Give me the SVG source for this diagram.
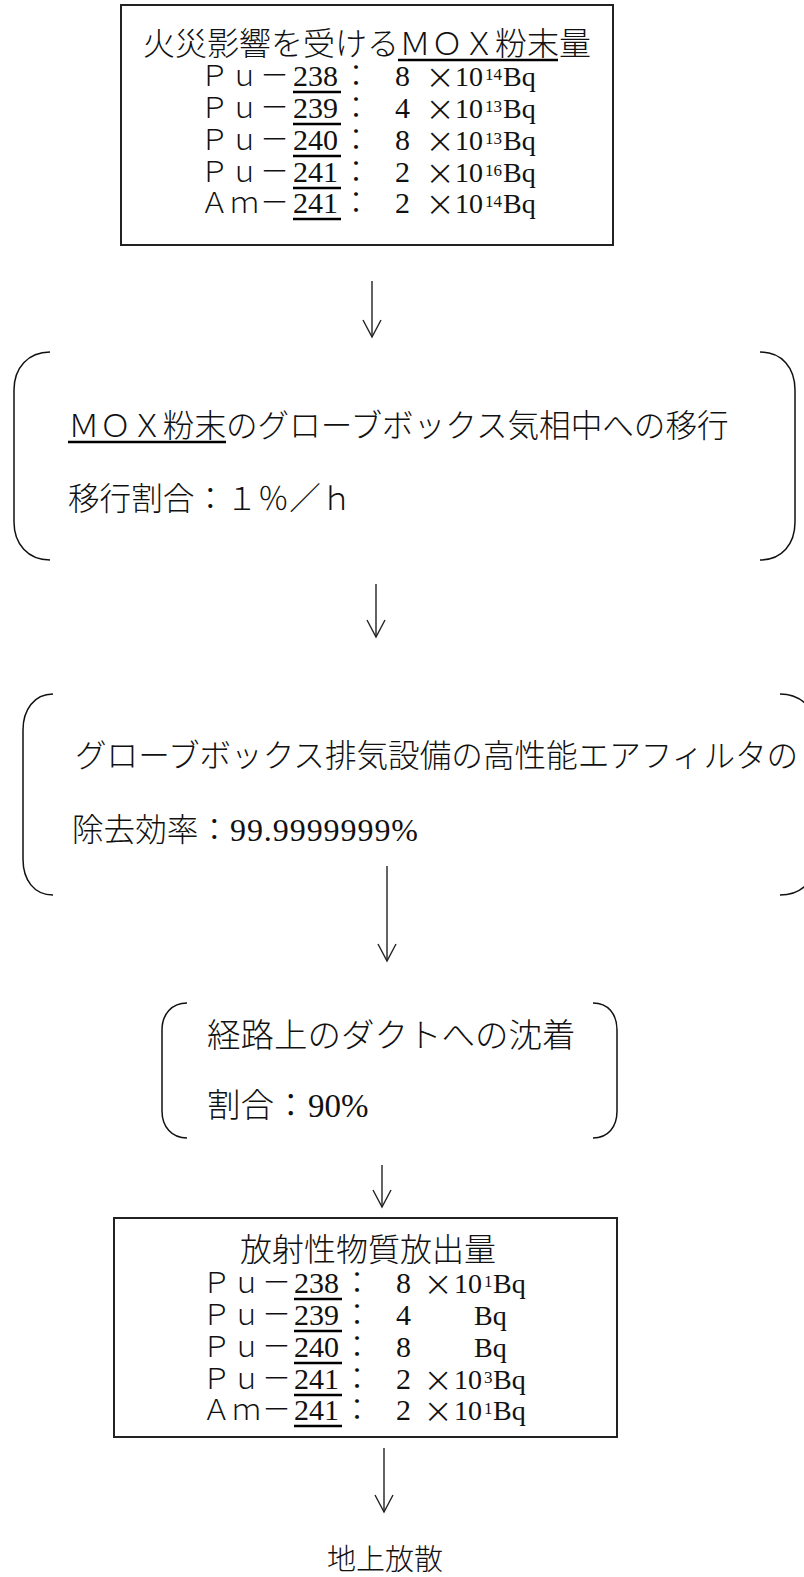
<svg xmlns="http://www.w3.org/2000/svg" width="804" height="1577" viewBox="0 0 804 1577">
<style>
.t{font-family:"Liberation Serif","Noto Sans CJK JP",serif;fill:#111;}
.jp{font-family:"Noto Sans CJK JP","Liberation Serif",sans-serif;fill:#111;font-weight:300;}
.box{fill:none;stroke:#222;stroke-width:2;}
.br{fill:none;stroke:#111;stroke-width:1.5;}
.ul{stroke:#000;stroke-width:2.5;}
.ar{fill:none;stroke:#222;stroke-width:1.4;}
.f30{font-size:30px;}
.fw{font-size:29px;letter-spacing:1px;}
.f28{font-size:28px;}
.sup{font-size:17px;}
.x{font-family:"DejaVu Sans",sans-serif;font-size:36px;font-weight:200;}
</style>
<defs>
<marker id="v" viewBox="-20 -12 22 24" refX="0" refY="0" markerWidth="22" markerHeight="24" markerUnits="userSpaceOnUse" orient="auto">
<path d="M-17,-9 L0,0 L-17,9" fill="none" stroke="#222" stroke-width="1.4"/>
</marker>
</defs>

<g id="node-input">
<rect class="box" x="121" y="5" width="492" height="240"/>
<text class="jp" x="367" y="55" font-size="32" text-anchor="middle">火災影響を受けるＭＯＸ粉末量</text>
<line class="ul" x1="398" y1="60" x2="558" y2="60"/>
<g class="t">
<text><tspan class="jp fw" x="200" y="86">Ｐｕ－</tspan><tspan class="f30" x="293" y="86">238</tspan><tspan class="jp f30" x="341" y="86">：</tspan><tspan class="f30" x="395" y="86">8</tspan><tspan class="x" x="425" y="89">×</tspan><tspan class="f28" x="455" y="86">10</tspan><tspan class="sup" x="485" y="80">14</tspan><tspan class="f28" x="503" y="86">Bq</tspan></text>
<text><tspan class="jp fw" x="200" y="118">Ｐｕ－</tspan><tspan class="f30" x="293" y="118">239</tspan><tspan class="jp f30" x="341" y="118">：</tspan><tspan class="f30" x="395" y="118">4</tspan><tspan class="x" x="425" y="121">×</tspan><tspan class="f28" x="455" y="118">10</tspan><tspan class="sup" x="485" y="112">13</tspan><tspan class="f28" x="503" y="118">Bq</tspan></text>
<text><tspan class="jp fw" x="200" y="150">Ｐｕ－</tspan><tspan class="f30" x="293" y="150">240</tspan><tspan class="jp f30" x="341" y="150">：</tspan><tspan class="f30" x="395" y="150">8</tspan><tspan class="x" x="425" y="153">×</tspan><tspan class="f28" x="455" y="150">10</tspan><tspan class="sup" x="485" y="144">13</tspan><tspan class="f28" x="503" y="150">Bq</tspan></text>
<text><tspan class="jp fw" x="200" y="182">Ｐｕ－</tspan><tspan class="f30" x="293" y="182">241</tspan><tspan class="jp f30" x="341" y="182">：</tspan><tspan class="f30" x="395" y="182">2</tspan><tspan class="x" x="425" y="185">×</tspan><tspan class="f28" x="455" y="182">10</tspan><tspan class="sup" x="485" y="176">16</tspan><tspan class="f28" x="503" y="182">Bq</tspan></text>
<text><tspan class="jp fw" x="200" y="213">Ａｍ－</tspan><tspan class="f30" x="293" y="213">241</tspan><tspan class="jp f30" x="341" y="213">：</tspan><tspan class="f30" x="395" y="213">2</tspan><tspan class="x" x="425" y="216">×</tspan><tspan class="f28" x="455" y="213">10</tspan><tspan class="sup" x="485" y="207">14</tspan><tspan class="f28" x="503" y="213">Bq</tspan></text>
</g>
<line class="ul" x1="293" y1="92" x2="341" y2="92"/>
<line class="ul" x1="293" y1="124" x2="341" y2="124"/>
<line class="ul" x1="293" y1="156" x2="341" y2="156"/>
<line class="ul" x1="293" y1="188" x2="341" y2="188"/>
<line class="ul" x1="293" y1="219" x2="341" y2="219"/>
</g>

<g id="node-transfer">
<path class="br" d="M50,352 C28,352 14,368 14,390 V522 C14,544 28,560 50,560"/>
<path class="br" d="M760,352 C782,352 795,368 795,390 V522 C795,544 782,560 760,560"/>
<text class="jp" x="68" y="437" font-size="31.6">ＭＯＸ粉末のグローブボックス気相中への移行</text>
<line class="ul" x1="68" y1="442" x2="226" y2="442"/>
<text class="jp" x="68" y="510" font-size="31.6">移行割合：１％／ｈ</text>
</g>

<g id="node-filter">
<path class="br" d="M53,694 C34,694 23,710 23,730 V859 C23,880 34,895 53,895"/>
<path class="br" d="M780,694 C802,694 816,710 816,730 V859 C816,880 802,895 780,895"/>
<text class="jp" x="75" y="767" font-size="31.6">グローブボックス排気設備の高性能エアフィルタの</text>
<text y="841"><tspan class="jp" x="72" font-size="31.6">除去効率：</tspan><tspan class="t" x="230" font-size="32" textLength="188" lengthAdjust="spacing">99.9999999%</tspan></text>
</g>

<g id="node-duct">
<path class="br" d="M187,1003 C172,1003 162,1014 162,1030 V1111 C162,1127 172,1138 187,1138"/>
<path class="br" d="M593,1003 C608,1003 617,1014 617,1030 V1111 C617,1127 608,1138 593,1138"/>
<text class="jp" x="207" y="1047" font-size="33.5">経路上のダクトへの沈着</text>
<text y="1117"><tspan class="jp" x="207" font-size="33.5">割合：</tspan><tspan class="t" x="308" font-size="33">90%</tspan></text>
</g>

<g id="node-release">
<rect class="box" x="114" y="1218" width="503" height="219"/>
<text class="jp" x="368" y="1261" font-size="32" text-anchor="middle">放射性物質放出量</text>
<g class="t">
<text><tspan class="jp fw" x="202" y="1293">Ｐｕ－</tspan><tspan class="f30" x="294" y="1293">238</tspan><tspan class="jp f30" x="342" y="1293">：</tspan><tspan class="f30" x="396" y="1293">8</tspan><tspan class="x" x="423" y="1296">×</tspan><tspan class="f28" x="454" y="1293">10</tspan><tspan class="sup" x="484" y="1287">1</tspan><tspan class="f28" x="493" y="1293">Bq</tspan></text>
<text><tspan class="jp fw" x="202" y="1325">Ｐｕ－</tspan><tspan class="f30" x="294" y="1325">239</tspan><tspan class="jp f30" x="342" y="1325">：</tspan><tspan class="f30" x="396" y="1325">4</tspan><tspan class="f28" x="474" y="1325">Bq</tspan></text>
<text><tspan class="jp fw" x="202" y="1357">Ｐｕ－</tspan><tspan class="f30" x="294" y="1357">240</tspan><tspan class="jp f30" x="342" y="1357">：</tspan><tspan class="f30" x="396" y="1357">8</tspan><tspan class="f28" x="474" y="1357">Bq</tspan></text>
<text><tspan class="jp fw" x="202" y="1389">Ｐｕ－</tspan><tspan class="f30" x="294" y="1389">241</tspan><tspan class="jp f30" x="342" y="1389">：</tspan><tspan class="f30" x="396" y="1389">2</tspan><tspan class="x" x="423" y="1392">×</tspan><tspan class="f28" x="454" y="1389">10</tspan><tspan class="sup" x="484" y="1383">3</tspan><tspan class="f28" x="493" y="1389">Bq</tspan></text>
<text><tspan class="jp fw" x="202" y="1420">Ａｍ－</tspan><tspan class="f30" x="294" y="1420">241</tspan><tspan class="jp f30" x="342" y="1420">：</tspan><tspan class="f30" x="396" y="1420">2</tspan><tspan class="x" x="423" y="1423">×</tspan><tspan class="f28" x="454" y="1420">10</tspan><tspan class="sup" x="484" y="1414">1</tspan><tspan class="f28" x="493" y="1420">Bq</tspan></text>
</g>
<line class="ul" x1="294" y1="1299" x2="342" y2="1299"/>
<line class="ul" x1="294" y1="1331" x2="342" y2="1331"/>
<line class="ul" x1="294" y1="1363" x2="342" y2="1363"/>
<line class="ul" x1="294" y1="1395" x2="342" y2="1395"/>
<line class="ul" x1="294" y1="1426" x2="342" y2="1426"/>
</g>

<g id="node-ground">
<text class="jp" x="327" y="1570" font-size="29">地上放散</text>
</g>

<g id="connectors">
<line class="ar" x1="372" y1="281" x2="372" y2="337" marker-end="url(#v)"/>
<line class="ar" x1="376" y1="584" x2="376" y2="637" marker-end="url(#v)"/>
<line class="ar" x1="387" y1="866" x2="387" y2="961" marker-end="url(#v)"/>
<line class="ar" x1="382" y1="1165" x2="382" y2="1207" marker-end="url(#v)"/>
<line class="ar" x1="384" y1="1448" x2="384" y2="1512" marker-end="url(#v)"/>
</g>
</svg>
